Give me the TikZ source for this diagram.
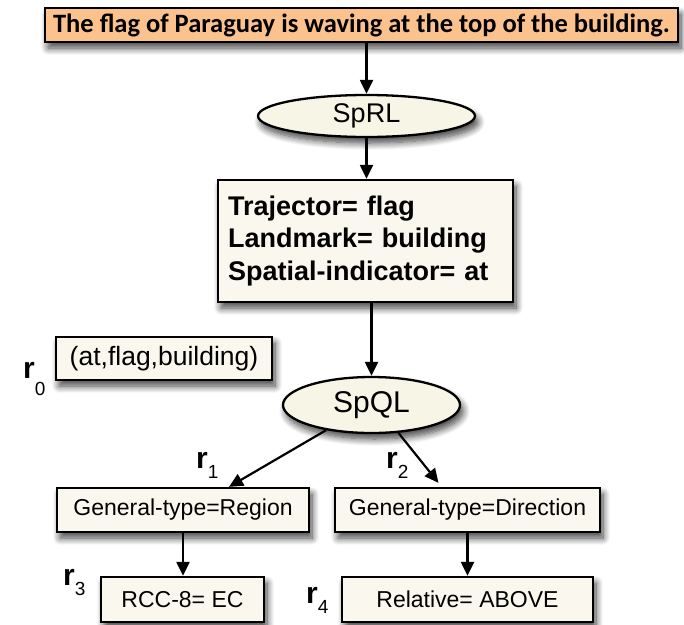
\documentclass[tikz,border=0pt]{standalone}
\usepackage{fontspec}
\setmainfont{Liberation Sans}
\newfontfamily\headfont{Carlito}
\usetikzlibrary{shapes.geometric,arrows.meta,shadows.blur}

\definecolor{ivory}{HTML}{FAF8EE}
\definecolor{ovalfill}{HTML}{F7F5E6}
\definecolor{peach}{HTML}{FCC28E}

\tikzset{
  shade/.style={blur shadow={shadow xshift=3pt, shadow yshift=-6pt,
      shadow blur radius=7pt, shadow blur steps=10, shadow opacity=75}},
  plainbox/.style={draw=black, line width=2.3pt, fill=ivory, rectangle,
      inner sep=0pt, shade},
  oval/.style={draw=black, line width=2.3pt, fill=ovalfill, ellipse,
      inner sep=0pt, shade},
  arr/.style={line width=2.2pt, -{Triangle[length=14pt,width=13pt]}},
  rlab/.style={inner sep=0pt, anchor=base west, font=\fontsize{30}{30}\selectfont\bfseries},
}
\newcommand{\subdigit}[2]{\raisebox{-#1}{\fontsize{19}{19}\selectfont\mdseries #2}}

\begin{document}
\begin{tikzpicture}[x=1pt,y=-1pt]
\useasboundingbox (0,0) rectangle (684,624);

% input sentence
\node[plainbox, fill=peach, minimum width=633pt, minimum height=34pt,
      font=\headfont\fontsize{26.5}{26.5}\selectfont\bfseries]
  (sentence) at (361.5,25) {The flag of Paraguay is waving at the top of the building.};

% spatial role labelling
\node[oval, minimum width=217pt, minimum height=42pt,
      font=\fontsize{27}{27}\selectfont] (sprl) at (366.5,116) {SpRL};

\node[plainbox, minimum width=295pt, minimum height=122pt, text width=275pt,
      align=left, inner xsep=10pt,
      font=\fontsize{27}{32.5}\selectfont\bfseries] (roles) at (365.5,241)
  {Trajector= flag\\ Landmark= building\\ Spatial-indicator= at};

% relation triple
\node[plainbox, minimum width=216pt, minimum height=43pt,
      font=\fontsize{26.5}{26.5}\selectfont] (triple) at (164,358.5) {(at,flag,building)};

% spatial qualitative labelling
\node[oval, minimum width=177pt, minimum height=56pt,
      font=\fontsize{30}{30}\selectfont] (spql) at (371.5,405) {SpQL};

\node[plainbox, minimum width=252pt, minimum height=44pt,
      font=\fontsize{23}{23}\selectfont] (region) at (183,510) {General-type=Region};
\node[plainbox, minimum width=265pt, minimum height=44pt,
      font=\fontsize{23}{23}\selectfont] (direction) at (467.5,510) {General-type=Direction};
\node[plainbox, minimum width=163pt, minimum height=45pt,
      font=\fontsize{23}{23}\selectfont] (rcc) at (182.5,599.5) {RCC-8= EC};
\node[plainbox, minimum width=251pt, minimum height=45pt,
      font=\fontsize{23}{23}\selectfont] (relative) at (467.5,599.5) {Relative= ABOVE};

% relation labels
\node[rlab] (r0) at (23,378) {r\subdigit{17pt}{0}};
\node[rlab] (r1) at (196,468) {r\subdigit{10pt}{1}};
\node[rlab] (r2) at (386,468) {r\subdigit{10pt}{2}};
\node[rlab] (r3) at (63,585) {r\subdigit{10pt}{3}};
\node[rlab] (r4) at (306,603) {r\subdigit{10pt}{4}};

% connectors
\draw[arr] (sprl.north |- sentence.south) -- (sprl.north);
\draw[arr] (sprl.south) -- (sprl.south |- roles.north);
\draw[arr] (spql.north |- roles.south) -- (spql.north);
\draw[arr] (spql.209) -- ([xshift=46pt]region.north);
\draw[arr] (spql.314) -- ([xshift=-29pt,yshift=4pt]direction.north);
\draw[arr] (region.south) -- (region.south |- rcc.north);
\draw[arr] (direction.south) -- (direction.south |- relative.north);
\end{tikzpicture}
\end{document}
